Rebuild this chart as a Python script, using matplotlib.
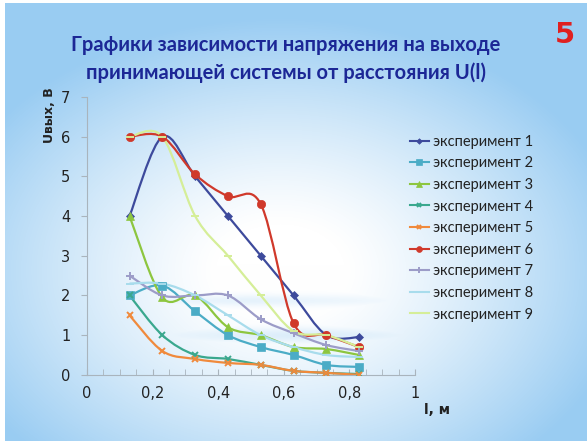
import numpy as np
import matplotlib
matplotlib.use('Agg')
import matplotlib.pyplot as plt
from matplotlib.path import Path
from matplotlib.patches import PathPatch
from matplotlib.lines import Line2D
from matplotlib.ticker import MultipleLocator, FuncFormatter

# data
l_m = [0.13, 0.23, 0.33, 0.43, 0.53, 0.63, 0.73, 0.83]
exp1 = [4.0, 6.0, 5.0, 4.0, 3.0, 2.0, 1.0, 0.95]
exp2 = [2.0, 2.25, 1.6, 1.0, 0.7, 0.5, 0.25, 0.2]
exp3 = [4.0, 1.95, 2.0, 1.2, 1.0, 0.7, 0.65, 0.5]
exp4 = [2.0, 1.0, 0.5, 0.4, 0.25, 0.1, 0.05, 0.02]
exp5 = [1.5, 0.6, 0.4, 0.3, 0.25, 0.1, 0.05, 0.0]
exp6 = [6.0, 6.0, 5.05, 4.5, 4.3, 1.3, 1.0, 0.7]
exp7 = [2.5, 2.0, 2.0, 2.0, 1.4, 1.05, 0.75, 0.6]
exp8 = [2.3, 2.3, 2.0, 1.5, 1.0, 0.7, 0.5, 0.45]
exp9 = [6.0, 6.0, 4.0, 3.0, 2.0, 1.1, 1.0, 0.7]
series_names = ['эксперимент %d' % i for i in range(1, 10)]
series_vals = [exp1, exp2, exp3, exp4, exp5, exp6, exp7, exp8, exp9]

colors = ['#3d4a9c', '#4bacc6', '#8dc63f', '#3aa88e', '#f08a3c',
          '#d0392b', '#9c9cc8', '#a8dcec', '#d5ee98']
markers = ['D', 's', '^', 'x', 'x', 'o', '+', '_', '_']
msizes = [4, 6, 6, 5, 5, 6, 6, 6, 6]

fig = plt.figure(figsize=(5.87, 4.41), dpi=100)

# slide background: white in the middle, light blue at the edges
bg = fig.add_axes([0, 0, 1, 1], zorder=-5)
yy, xx = np.mgrid[0:441, 0:587]
d = np.sqrt(((xx - 280) / 320.0) ** 2 + ((yy - 270) / 230.0) ** 2)
t = np.clip((d - 0.2) / 0.9, 0, 1) ** 1.2
t = np.maximum(t, 0.45 * np.clip(1 - yy / 200.0, 0, 1))
# faint horizontal streaks near the bottom
t = np.maximum(t, 0.35 * np.exp(-((yy - 335) / 8.0) ** 2) * np.clip(1 - np.abs(xx - 300) / 320.0, 0, 1))
t = np.maximum(t, 0.25 * np.exp(-((yy - 300) / 6.0) ** 2) * np.clip(1 - np.abs(xx - 250) / 300.0, 0, 1))
white = np.array([1.0, 1.0, 1.0])
blue = np.array([0.60, 0.80, 0.95])
img = white * (1 - t[..., None]) + blue * t[..., None]
img[:, :5] = 1.0
img[:3, :] = 1.0
bg.imshow(img, aspect='auto', interpolation='bilinear')
bg.axis('off')

ax = fig.add_axes([0.148, 0.150, 0.559, 0.630])
ax.patch.set_alpha(0)


def smooth_path(x, y):
    # Excel-like smoothed line (Bezier through the points)
    x = np.asarray(x, float)
    y = np.asarray(y, float)
    n = len(x)
    verts = [(x[0], y[0])]
    codes = [Path.MOVETO]
    for i in range(n - 1):
        p0 = i - 1 if i > 0 else 0
        p3 = i + 2 if i + 2 < n else n - 1
        c1 = (x[i] + (x[i + 1] - x[p0]) / 6, y[i] + (y[i + 1] - y[p0]) / 6)
        c2 = (x[i + 1] - (x[p3] - x[i]) / 6, y[i + 1] - (y[p3] - y[i]) / 6)
        verts += [c1, c2, (x[i + 1], y[i + 1])]
        codes += [Path.CURVE4] * 3
    return Path(verts, codes)


handles = []
for name, vals, c, m, ms in zip(series_names, series_vals, colors, markers, msizes):
    ax.add_patch(PathPatch(smooth_path(l_m, vals), facecolor='none',
                           edgecolor=c, lw=1.6, zorder=2))
    mew = 1.4 if m in ('x', '+', '_') else 0.5
    ax.plot(l_m, vals, linestyle='none', marker=m, color=c, markersize=ms,
            markeredgewidth=mew, zorder=3)
    handles.append(Line2D([], [], color=c, lw=1.5, marker=m, markersize=ms * 0.7,
                          markeredgewidth=mew))

ax.set_xlim(0, 1)
ax.set_ylim(0, 7)
ax.xaxis.set_major_locator(MultipleLocator(0.2))
ax.xaxis.set_minor_locator(MultipleLocator(0.05))
ax.yaxis.set_major_locator(MultipleLocator(1))
ax.xaxis.set_major_formatter(FuncFormatter(lambda v, p: ('%g' % round(v, 2)).replace('.', ',')))
for s in ['top', 'right']:
    ax.spines[s].set_visible(False)
for s in ['left', 'bottom']:
    ax.spines[s].set_color('#a9b4bd')
ax.tick_params(axis='both', which='both', color='#a9b4bd', labelsize=10.5,
               labelcolor='#222222')
ax.tick_params(axis='x', which='both', direction='in', length=4, pad=8)
ax.tick_params(axis='y', length=4, pad=8)

leg = fig.legend(handles, series_names, loc='upper left', bbox_to_anchor=(0.676, 0.724),
                 frameon=False, prop={'family': 'Lato', 'size': 10.5}, handlelength=1.3,
                 handletextpad=0.25, labelspacing=0.52, labelcolor='#222222')

fig.text(0.487, 0.897, 'Графики зависимости напряжения на выходе', family='Lato',
         ha='center', va='center', fontsize=14.5, fontweight='bold', color='#1c2796')
fig.text(0.487, 0.834, 'принимающей системы от расстояния U(l)', family='Lato',
         ha='center', va='center', fontsize=14.5, fontweight='bold', color='#1c2796')
fig.text(0.962, 0.92, '5', ha='center', va='center', fontsize=21,
         fontweight='bold', color='#e02020')
fig.text(0.085, 0.738, 'Uвых, В', rotation=90, ha='center', va='center',
         fontsize=9, fontweight='bold', color='#222222')
fig.text(0.745, 0.07, 'l, м', ha='center', va='center', fontsize=10,
         fontweight='bold', color='#222222')

fig.savefig('out.png', dpi=100)
